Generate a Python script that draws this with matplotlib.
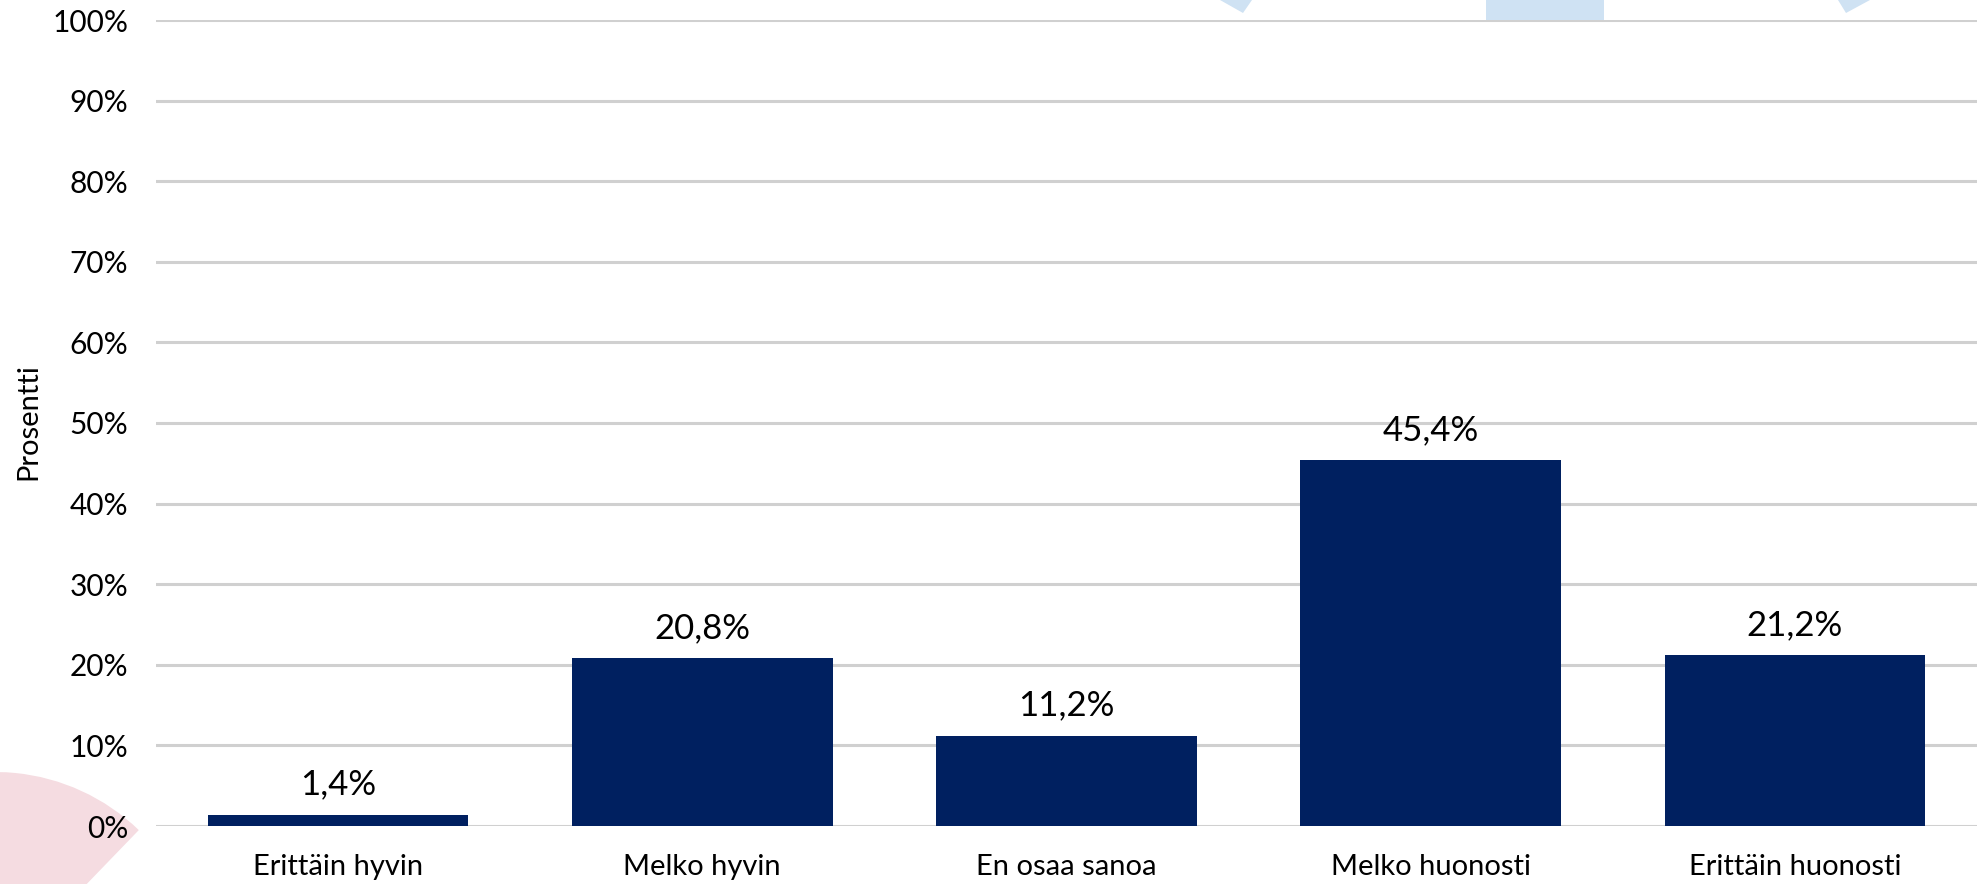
import matplotlib.pyplot as plt
from matplotlib.patches import Polygon, Wedge

categories = ["Erittäin hyvin", "Melko hyvin", "En osaa sanoa", "Melko huonosti", "Erittäin huonosti"]
values = [1.4, 20.8, 11.2, 45.4, 21.2]
value_labels = ["1,4%", "20,8%", "11,2%", "45,4%", "21,2%"]
yticks = list(range(0, 101, 10))
ytick_labels = [f"{t}%" for t in yticks]

W, H = 1977, 884
plt.rcParams['font.family'] = ['Lato', 'DejaVu Sans']

fig = plt.figure(figsize=(W / 100, H / 100), dpi=100)


def px(x, y):
    # pixel coords (top-left origin) -> figure fraction
    return (x / W, 1 - y / H)


# background decorations
blue = '#cfe2f3'
pink = '#f5dce1'
for pts in ([(1220, 0), (1243, 13), (1252, 0)],
            [(1486, 0), (1604, 0), (1604, 20), (1486, 20)],
            [(1838, 0), (1846, 13), (1870, 0)]):
    fig.patches.append(Polygon([px(*p) for p in pts], closed=True, facecolor=blue,
                               edgecolor='none', transform=fig.transFigure, zorder=-1))

wedge = Wedge((-5, -95), 207, 46, 200, facecolor=pink, edgecolor='none',
              transform=None, zorder=-1)
fig.patches.append(wedge)

ax = fig.add_axes([156 / W, 1 - 826 / H, 1 - 156 / W, (826 - 20) / H])
ax.set_facecolor('none')

x = range(len(categories))
bars = ax.bar(x, values, width=0.716, color='#002060', zorder=3)
for xi, v, lab in zip(x, values, value_labels):
    ax.annotate(lab, (xi, v), xytext=(0, 14.4), textcoords='offset points',
                ha='center', va='baseline', fontsize=25, color='black')

ax.set_ylim(0, 100)
ax.set_xlim(-0.5, len(categories) - 0.5)
ax.set_yticks(yticks)
ax.set_yticklabels(ytick_labels, fontsize=21.5)
ax.set_xticks(list(x))
ax.set_xticklabels(categories, fontsize=21)
ax.tick_params(axis='both', length=0)
ax.tick_params(axis='y', pad=20)
ax.tick_params(axis='x', pad=20)
ax.grid(axis='y', color='#d0d0d0', linewidth=2.2, zorder=0)
for s in ax.spines.values():
    s.set_visible(False)

fig.text(*px(28, 422), 'Prosentti', rotation=90, ha='center', va='center', fontsize=21)

fig.savefig('out.png', dpi=100)
